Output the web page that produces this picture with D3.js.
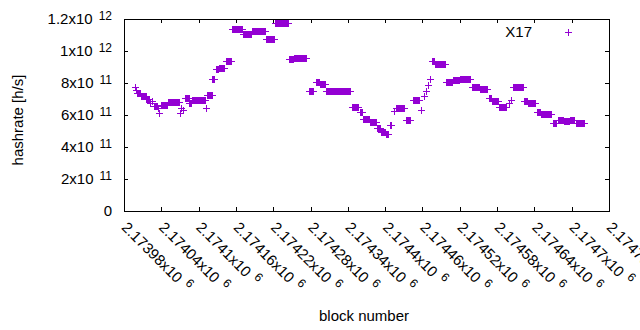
<!DOCTYPE html>
<html><head><meta charset="utf-8">
<script src="https://cdn.jsdelivr.net/npm/d3@7"></script>
<style>
body{margin:0;background:#fff;}
text{font-family:"Liberation Sans",Arial,sans-serif;fill:#000;}
</style>
</head><body>
<svg id="chart" width="640" height="330"></svg>
<script>
// ---- data (runs of consecutive blocks sharing the same hashrate estimate) ----
const seriesName = "X17";
const runStart = [2173998,2173999,2174001,2174007,2174016,2174022,2174025,2174028,2174035,2174036,
  2174040,2174051,2174070,2174072,2174075,2174078,2174085,2174089,2174112,2174114,
  2174122,2174128,2174133,2174144,2174154,2174171,2174186,2174208,2174223,2174245,
  2174253,2174278,2174289,2174295,2174305,2174347,2174359,2174364,2174376,2174387,
  2174393,2174401,2174408,2174414,2174417,2174433,2174445,2174458,2174462,2174466,
  2174469,2174472,2174475,2174480,2174498,2174509,2174520,2174540,2174552,2174567,
  2174572,2174583,2174599,2174602,2174606,2174623,2174630,2174644,2174651,2174670,
  2174678,2174688,2174697,2174707];
const runEnd = [2173998,2173999,2174006,2174015,2174020,2174022,2174025,2174033,2174035,2174036,
  2174049,2174068,2174070,2174072,2174075,2174084,2174088,2174110,2174112,2174121,
  2174125,2174131,2174141,2174152,2174170,2174184,2174207,2174221,2174244,2174252,
  2174273,2174284,2174294,2174303,2174343,2174356,2174363,2174374,2174385,2174392,
  2174400,2174405,2174409,2174414,2174430,2174440,2174454,2174458,2174462,2174466,
  2174469,2174472,2174478,2174496,2174507,2174519,2174536,2174551,2174564,2174570,
  2174581,2174594,2174599,2174602,2174622,2174628,2174641,2174649,2174667,2174675,
  2174686,2174696,2174704,2174720];
// hashrate in units of 1e9 h/s
const runHashrate = [775,756,737,719,703,675,688,656,644,612,
  662,681,612,644,631,706,675,694,644,722,
  822,887,894,936,1136,1104,1123,1073,1176,948,
  954,753,809,794,748,650,619,575,556,519,
  494,481,537,625,641,569,694,631,719,750,
  787,825,937,919,806,819,825,775,762,706,
  688,650,675,694,772,688,675,619,606,553,
  569,562,569,553];

const xTickValues = [2173980,2174040,2174100,2174160,2174220,2174280,2174340,2174400,2174460,2174520,2174580,2174640,2174700,2174760];
const xTickLabels = ["2.17398","2.17404","2.1741","2.17416","2.17422","2.17428","2.17434","2.1744","2.17446","2.17452","2.17458","2.17464","2.1747","2.17476"];
const xTickExp = "6";
const yTickValues = [0,2e11,4e11,6e11,8e11,1e12,1.2e12];
const yTickMantissa = ["0","2","4","6","8","1","1.2"];
const yTickExp = ["","11","11","11","11","12","12"];

// ---- build points ----
const points = [];
runStart.forEach((s,i)=>{ for(let b=s;b<=runEnd[i];b++) points.push({block:b, hashrate:runHashrate[i]*1e9}); });

const color = "#9400D3";
const FS = 15, SUP = 12;
const svg = d3.select("#chart");
const L=124, R=609, T=19, B=211;
const x = d3.scaleLinear().domain([2173980,2174760]).range([L,R]);
const y = d3.scaleLinear().domain([0,1.2e12]).range([B,T]);

// ticks (inward, mirrored)
const tk = 4;
svg.append("g").attr("transform",`translate(0,${B})`)
  .call(d3.axisBottom(x).tickValues(xTickValues).tickSize(-tk).tickFormat(""))
  .call(g=>g.select(".domain").remove());
svg.append("g").attr("transform",`translate(0,${T})`)
  .call(d3.axisTop(x).tickValues(xTickValues).tickSize(-tk).tickFormat(""))
  .call(g=>g.select(".domain").remove());
svg.append("g").attr("transform",`translate(${L},0)`)
  .call(d3.axisLeft(y).tickValues(yTickValues.slice(1)).tickSize(-tk).tickFormat(""))
  .call(g=>g.select(".domain").remove());
svg.append("g").attr("transform",`translate(${R},0)`)
  .call(d3.axisRight(y).tickValues(yTickValues.slice(1)).tickSize(-tk).tickFormat(""))
  .call(g=>g.select(".domain").remove());
svg.selectAll(".tick line").attr("stroke","#000").attr("shape-rendering","crispEdges");

// frame
svg.append("rect").attr("x",L+0.5).attr("y",T+0.5).attr("width",R-L).attr("height",B-T)
  .attr("fill","none").attr("stroke","#000").attr("shape-rendering","crispEdges");

// y tick labels
yTickValues.forEach((v,i)=>{
  const t = svg.append("text").attr("x",112).attr("y",y(v)+5).attr("text-anchor","end").attr("font-size",FS);
  t.append("tspan").text(yTickMantissa[i] + (yTickExp[i] ? "x10" : ""));
  if (yTickExp[i]) t.append("tspan").attr("dx",6).attr("dy",-4).attr("font-size",SUP).text(yTickExp[i]);
});

// x tick labels (rotated)
xTickValues.forEach((v,i)=>{
  const t = svg.append("text").attr("transform",`translate(${x(v)+1},${224}) rotate(45)`)
    .attr("text-anchor","start").attr("dominant-baseline","central").attr("font-size",FS);
  t.append("tspan").text(xTickLabels[i]+"x10");
  t.append("tspan").attr("dx",6).attr("dy",-4).attr("font-size",SUP).text(xTickExp);
});

// axis titles
svg.append("text").attr("transform","translate(23,120) rotate(-90)").attr("text-anchor","middle")
  .attr("font-size",FS).text("hashrate [h/s]");
svg.append("text").attr("x",364).attr("y",321).attr("text-anchor","middle").attr("font-size",FS).text("block number");

// points as "+" markers
const h = 3.5;
const plus = (cx,cy)=>`M${cx-h},${cy}H${cx+h}M${cx},${cy-h}V${cy+h}`;
svg.append("path")
  .attr("d", points.map(d=>plus(Math.round(x(d.block))+0.5, Math.round(y(d.hashrate))+0.5)).join(""))
  .attr("fill","none").attr("stroke",color).attr("stroke-width",1).attr("shape-rendering","crispEdges");

// legend
svg.append("text").attr("x",532).attr("y",37).attr("text-anchor","end").attr("font-size",FS).text(seriesName);
svg.append("path").attr("d",plus(568.5,32.5)).attr("fill","none").attr("stroke",color).attr("shape-rendering","crispEdges");
</script>
</body></html>
